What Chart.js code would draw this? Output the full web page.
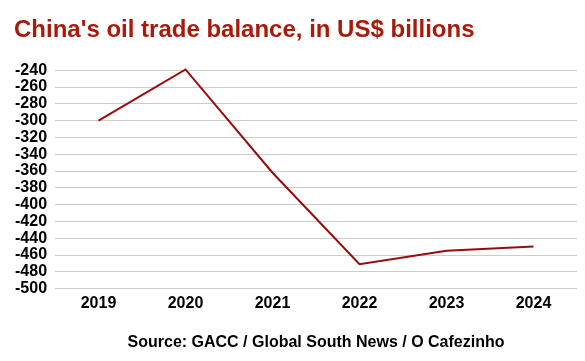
<!DOCTYPE html>
<html>
<head>
<meta charset="utf-8">
<script src="https://cdn.jsdelivr.net/npm/chart.js@4"></script>
<style>
html,body{margin:0;padding:0;background:#fff;}
#wrap{width:585px;height:361px;}
</style>
</head>
<body>
<div id="wrap"><canvas id="c" width="585" height="361"></canvas></div>
<script>
const years = ["2019","2020","2021","2022","2023","2024"];
const balance = [-300, -239, -362, -471, -455, -450];
const yMin = -500, yMax = -240, yStep = 20;
const titleText = "China's oil trade balance, in US$ billions";
const sourceText = "Source: GACC / Global South News / O Cafezinho";

const FONT = "'Liberation Sans', Arial, sans-serif";
new Chart(document.getElementById('c'), {
  type: 'line',
  data: {
    labels: years,
    datasets: [{
      data: balance,
      borderColor: '#9b0a0a',
      borderWidth: 2,
      pointRadius: 0,
      pointHoverRadius: 0,
      tension: 0,
      fill: false,
      clip: false
    }]
  },
  options: {
    responsive: false,
    animation: false,
    events: [],
    layout: { padding: { left: 14, right: 8, top: 0, bottom: 0 } },
    plugins: {
      legend: { display: false },
      tooltip: { enabled: false },
      title: {
        display: true,
        text: titleText,
        align: 'start',
        color: '#a81a0c',
        font: { family: FONT, size: 24, weight: 'bold' },
        padding: { top: 15.5, bottom: 26 }
      },
      subtitle: {
        display: true,
        text: sourceText,
        position: 'bottom',
        fullSize: false,
        color: '#000',
        font: { family: FONT, size: 16, weight: 'bold' },
        padding: { top: 15, bottom: 9 }
      }
    },
    scales: {
      x: {
        offset: true,
        grid: { display: false, drawTicks: false },
        border: { display: false },
        ticks: { color: '#000', font: { family: FONT, size: 16, weight: 'bold' }, padding: 5, maxRotation: 0 }
      },
      y: {
        min: yMin, max: yMax,
        grid: { color: '#cccccc', lineWidth: 1, drawTicks: false },
        border: { display: false },
        afterFit: (scale) => { scale.width -= 7; },
        ticks: { stepSize: yStep, autoSkip: false, color: '#000', font: { family: FONT, size: 16, weight: 'bold' }, padding: 8 }
      }
    }
  }
});
</script>
</body>
</html>
